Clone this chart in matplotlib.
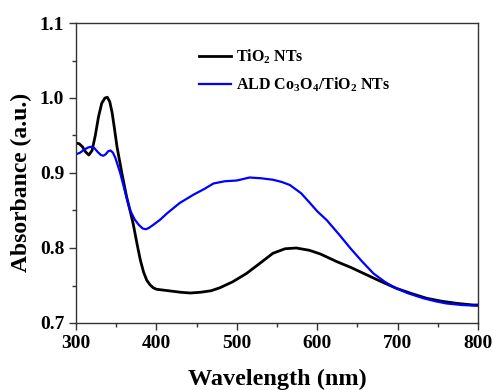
import matplotlib
matplotlib.use("Agg")
import matplotlib.pyplot as plt
from matplotlib.ticker import MultipleLocator

plt.rcParams["font.family"] = ["Liberation Serif", "DejaVu Serif"]
plt.rcParams["font.weight"] = "bold"
plt.rcParams["mathtext.fontset"] = "custom"
plt.rcParams["mathtext.rm"] = "Liberation Serif:bold"
plt.rcParams["mathtext.it"] = "Liberation Serif:bold:italic"
plt.rcParams["mathtext.bf"] = "Liberation Serif:bold"

# TiO2 NTs
wl_tio2 = [300, 304, 308, 312, 316, 320, 324, 328, 332, 336, 339, 342, 345, 348,
           351, 357, 363, 367, 371, 376, 380, 384, 388, 392, 396, 400,
           415, 430, 442, 455, 468, 479, 495, 512, 528, 545, 560, 574, 590, 604,
           624, 642, 662, 680, 699, 718, 736, 755, 775, 794, 800]
abs_tio2 = [0.940, 0.939, 0.935, 0.928, 0.924, 0.930, 0.950, 0.975, 0.993, 1.000,
            1.001, 0.995, 0.980, 0.958, 0.935, 0.900, 0.868, 0.851, 0.833, 0.805,
            0.784, 0.768, 0.757, 0.751, 0.747, 0.745,
            0.743, 0.741, 0.740, 0.741, 0.743, 0.747, 0.755, 0.766, 0.779, 0.793,
            0.799, 0.800, 0.797, 0.792, 0.782, 0.774, 0.764, 0.755, 0.746, 0.739,
            0.733, 0.729, 0.726, 0.724, 0.724]

# ALD Co3O4/TiO2 NTs
wl_co = [300, 305, 310, 315, 319, 323, 327, 331, 334, 337, 340, 343, 346, 349,
         352, 355, 361, 367, 373, 378, 383, 387, 391, 395, 405, 413, 429, 446,
         460, 471, 485, 500, 516, 530, 545, 556, 566, 580, 591, 600, 612, 628,
         641, 655, 670, 684, 695, 712, 732, 747, 761, 780, 800]
abs_co = [0.925, 0.927, 0.931, 0.934, 0.935, 0.933, 0.928, 0.924, 0.923, 0.925,
          0.929, 0.930, 0.927, 0.920, 0.910, 0.900, 0.875, 0.851, 0.838, 0.831,
          0.826, 0.825, 0.827, 0.830, 0.838, 0.846, 0.860, 0.871, 0.879, 0.886,
          0.889, 0.890, 0.894, 0.893, 0.891, 0.888, 0.884, 0.873, 0.860, 0.849,
          0.837, 0.817, 0.800, 0.783, 0.766, 0.755, 0.748, 0.740, 0.733, 0.729,
          0.726, 0.724, 0.723]

fig = plt.figure(figsize=(4.93, 3.90), dpi=100)
ax = fig.add_axes([76 / 493, 1 - 323 / 390, (478 - 76) / 493, (323 - 23) / 390])

ax.plot(wl_tio2, abs_tio2, color="black", lw=2.0, label=r"TiO$_2$ NTs")
ax.plot(wl_co, abs_co, color="#0000ff", lw=1.6,
        label=r"ALD Co$_3$O$_4$/TiO$_2$ NTs")

ax.set_xlim(300, 800)
ax.set_ylim(0.7, 1.1)
ax.xaxis.set_major_locator(MultipleLocator(100))
ax.xaxis.set_minor_locator(MultipleLocator(50))
ax.yaxis.set_major_locator(MultipleLocator(0.1))
ax.yaxis.set_minor_locator(MultipleLocator(0.05))
ax.tick_params(which="both", direction="out", width=1.0, color="#333333",
               labelsize=14)
ax.tick_params(which="major", length=5)
ax.tick_params(which="minor", length=3)
for lab in ax.get_xticklabels() + ax.get_yticklabels():
    lab.set_fontweight("bold")
for s in ax.spines.values():
    s.set_linewidth(1.0)
    s.set_color("#333333")

ax.set_xlabel("Wavelength (nm)", fontsize=17.5, fontweight="bold", labelpad=12)
ax.set_ylabel("Absorbance (a.u.)", fontsize=17, fontweight="bold")
ax.yaxis.set_label_coords(-44 / 402, 0.468)

leg = ax.legend(loc="upper left", bbox_to_anchor=(0.29, 0.94), frameon=False,
                fontsize=11.5, handlelength=2.0, handletextpad=0.3,
                labelspacing=0.6, borderaxespad=0)
for t in leg.get_texts():
    t.set_fontweight("bold")

fig.savefig("out.png", dpi=100)
